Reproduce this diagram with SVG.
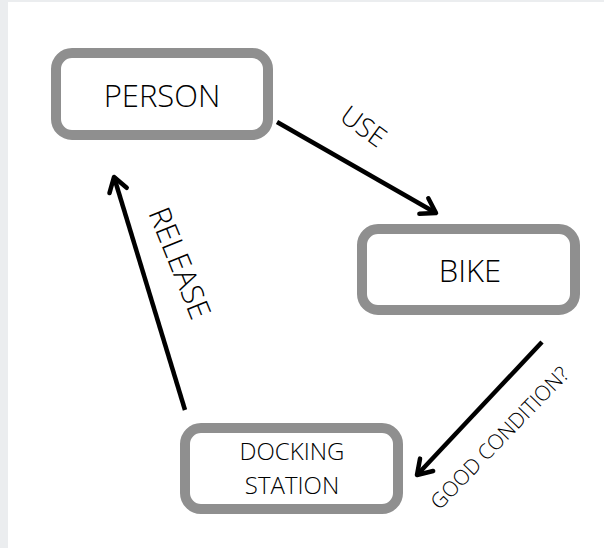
<svg xmlns="http://www.w3.org/2000/svg" width="604" height="548" viewBox="0 0 604 548">
<defs>
<style>
.box{fill:#fff;stroke:#8f8f8f;stroke-width:10}
.lbl{font-family:"Open Sans","Liberation Sans",sans-serif;font-weight:350;fill:#000;text-anchor:middle}
.edge{stroke:#000;stroke-width:4.5;fill:none;marker-end:url(#arr)}
</style>
<marker id="arr" markerUnits="userSpaceOnUse" viewBox="-20 -12 24 24" refX="0" refY="0" markerWidth="24" markerHeight="24" orient="auto">
<path d="M-14,-9 L0,0 L-14,9" fill="none" stroke="#000" stroke-width="4.5" stroke-linecap="round" stroke-linejoin="round"/>
</marker>
</defs>
<rect x="0" y="0" width="604" height="548" fill="#ebedef"/>
<rect x="8" y="2" width="596" height="546" fill="#fff"/>
<g id="connectors">
<line class="edge" x1="277" y1="122" x2="436" y2="213"/>
<line class="edge" x1="542" y1="342" x2="417" y2="475"/>
<line class="edge" x1="185" y1="410" x2="114" y2="177"/>
<text class="lbl" font-size="27" transform="translate(358,134) rotate(36)">USE</text>
<text class="lbl" font-size="21" transform="translate(505,443) rotate(-46)">GOOD CONDITION?</text>
<text class="lbl" font-size="30" transform="translate(170,267) rotate(68)">RELEASE</text>
</g>
<g id="person">
<rect class="box" x="56" y="53" width="212" height="82" rx="16"/>
<text class="lbl" font-size="31" x="162" y="107">PERSON</text>
</g>
<g id="bike">
<rect class="box" x="362" y="229" width="213" height="81" rx="16"/>
<text class="lbl" font-size="31" x="470" y="282">BIKE</text>
</g>
<g id="docking">
<rect class="box" x="185" y="428" width="213" height="81" rx="16"/>
<text class="lbl" font-size="24" x="292" y="460">DOCKING</text>
<text class="lbl" font-size="24" x="292" y="494">STATION</text>
</g>
</svg>
